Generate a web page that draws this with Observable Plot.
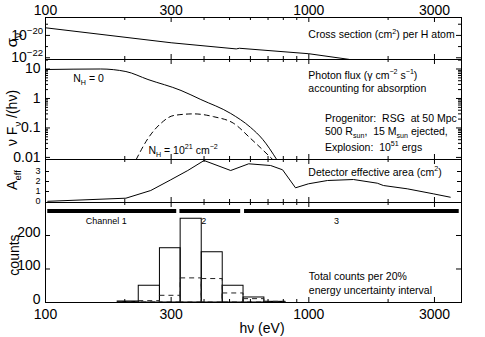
<!DOCTYPE html>
<html><head><meta charset="utf-8">
<script src="https://cdn.jsdelivr.net/npm/d3@7"></script>
<script src="https://cdn.jsdelivr.net/npm/@observablehq/plot@0.6"></script>
<style>
body{margin:0;background:#fff;}
#chart{position:relative;width:485px;height:337px;background:#fff;}
#chart svg{position:absolute;left:0;}
</style></head><body><div id="chart"></div>
<script>
const FONT = '"Liberation Sans", Arial, Helvetica, sans-serif';
const W = 485, ML = 45, MR = 24;

// shared energy axis (eV)
const xDomain = [100, 3800];
const xMajor = [100, 300, 1000, 3000];
const xMinor = [200, 400, 500, 600, 700, 800, 900, 2000];

// panel 1: cross section per H atom (cm^2)
const sigmaE = [100, 300, 530, 545, 1000, 1420];
const sigmaV = [4.8e-20, 2.2e-21, 6.2e-22, 7.1e-22, 2.3e-22, 7.2e-23];
const sigmaDomain = [7.0e-23, 4.0e-19];
const sigmaTicks = [1e-22, 1e-20];
const sigmaTickExp = ["−22", "−20"];
const sigmaMinor = [1e-21, 1e-19];

// panel 2: photon flux
const fluxE0 = [100, 162, 202, 245, 327, 389, 505, 601, 668, 755];
const flux0 = [9.6, 10, 8.2, 4.4, 1.87, 0.92, 0.31, 0.104, 0.041, 0.0085];
const fluxE21 = [221, 245, 274, 307, 366, 436, 519, 601, 729];
const flux21 = [0.0085, 0.044, 0.142, 0.265, 0.30, 0.24, 0.142, 0.044, 0.0085];
const fluxDomain = [0.0085, 21];
const fluxTicks = [0.01, 0.1, 1, 10];
const fluxMinor = [0.02, 0.03, 0.04, 0.05, 0.06, 0.07, 0.08, 0.09, 0.2, 0.3, 0.4, 0.5, 0.6, 0.7, 0.8, 0.9, 2, 3, 4, 5, 6, 7, 8, 9, 20];

// panel 3: detector effective area (cm^2)
const aeffE = [102, 202, 251, 299, 347, 400, 505, 591, 716, 795, 890, 997, 1177, 1477, 1820, 1919, 2364, 2968, 3443];
const aeffV = [0.02, 0.33, 1.1, 2.17, 3.1, 4.1, 3.1, 3.77, 3.6, 3.17, 1.37, 1.77, 2.1, 2.2, 1.83, 1.6, 1.27, 0.77, 0.43];
const aeffDomain = [-0.1, 4.2];
const aeffTicks = [0, 1, 2, 3];

// panel 4: counts per 20% energy bin
const binLo = [188, 226, 272, 326, 392, 471, 565, 678];
const binHi = [226, 272, 326, 392, 471, 565, 678, 815];
const countsTotal = [3, 50, 162, 250, 150, 50, 15, 2];
const countsAbs = [1, 4, 20, 72, 70, 27, 10, 2];
const countDomain = [0, 298.5];
const countTicks = [0, 100, 200];

// detector channels
const channelNames = ["Channel 1", "2", "3"];
const channelLo = [102, 324, 570];
const channelHi = [315, 551, 3725];
const channelLabelE = [170, 399, 1273];
const channelBarCount = 273;
const channelLabelCount = 242;

const fw = W - ML - MR;
const baseStyle = {fontFamily: FONT, fontSize: "14px", overflow: "visible", background: "transparent", color: "black"};

function xTickMarks(fh) {
  return [
    Plot.tickX(xMajor, {x: d => d, insetBottom: fh - 5, stroke: "black"}),
    Plot.tickX(xMajor, {x: d => d, insetTop: fh - 5, stroke: "black"}),
    Plot.tickX(xMinor, {x: d => d, insetBottom: fh - 3, stroke: "black"}),
    Plot.tickX(xMinor, {x: d => d, insetTop: fh - 3, stroke: "black"})
  ];
}
function yTickMarks(vals, len) {
  return [
    Plot.tickY(vals, {y: d => d, insetRight: fw - len, stroke: "black"}),
    Plot.tickY(vals, {y: d => d, insetLeft: fw - len, stroke: "black"})
  ];
}
function xOpts(axis) {
  return axis
    ? {type: "log", domain: xDomain, axis, ticks: xMajor, tickFormat: d => String(d), tickSize: 0, tickPadding: axis === "bottom" ? 7 : 3, label: null}
    : {type: "log", domain: xDomain, axis: null};
}

const chart = document.getElementById("chart");

// ---- panel 1
const fh1 = 42;
const p1 = Plot.plot({
  width: W, height: 17 + fh1, marginLeft: ML, marginRight: MR, marginTop: 17, marginBottom: 0,
  style: baseStyle,
  x: xOpts("top"),
  y: {type: "log", domain: sigmaDomain, axis: null},
  marks: [
    Plot.line(sigmaE.map((e, i) => ({e, v: sigmaV[i]})), {x: "e", y: "v", stroke: "black", strokeWidth: 1, clip: true}),
    ...xTickMarks(fh1),
    ...yTickMarks(sigmaTicks, 5),
    ...yTickMarks(sigmaMinor, 3),
    Plot.frame({stroke: "black"})
  ]
});
p1.style.top = "0px";
chart.appendChild(p1);

// ---- panel 2
const fh2 = 100;
const p2 = Plot.plot({
  width: W, height: fh2, marginLeft: ML, marginRight: MR, marginTop: 0, marginBottom: 0,
  style: baseStyle,
  x: xOpts(null),
  y: {type: "log", domain: fluxDomain, axis: "left", ticks: fluxTicks, tickFormat: d => String(d), tickSize: 0, tickPadding: 5, label: null},
  marks: [
    Plot.line(fluxE0.map((e, i) => ({e, v: flux0[i]})), {x: "e", y: "v", stroke: "black", strokeWidth: 1, clip: true, curve: "monotone-x"}),
    Plot.line(fluxE21.map((e, i) => ({e, v: flux21[i]})), {x: "e", y: "v", stroke: "black", strokeWidth: 1, strokeDasharray: "5,4", clip: true, curve: "monotone-x"}),
    ...xTickMarks(fh2),
    ...yTickMarks(fluxTicks, 5),
    ...yTickMarks(fluxMinor, 3),
    Plot.frame({stroke: "black"})
  ]
});
p2.style.top = "59px";
chart.appendChild(p2);

// ---- panel 3
const fh3 = 43;
const p3 = Plot.plot({
  width: W, height: fh3, marginLeft: ML, marginRight: MR, marginTop: 0, marginBottom: 0,
  style: {...baseStyle, fontSize: "9px"},
  x: xOpts(null),
  y: {domain: aeffDomain, axis: "left", ticks: aeffTicks, tickFormat: d => String(d), tickSize: 0, tickPadding: 5, label: null},
  marks: [
    Plot.line(aeffE.map((e, i) => ({e, v: aeffV[i]})), {x: "e", y: "v", stroke: "black", strokeWidth: 1}),
    ...xTickMarks(fh3),
    ...yTickMarks([1, 2, 3], 4),
    Plot.frame({stroke: "black"})
  ]
});
p3.style.top = "159px";
chart.appendChild(p3);

// ---- panel 4
const fh4 = 100;
const bins = binLo.map((lo, i) => ({lo, hi: binHi[i], total: countsTotal[i], abs: countsAbs[i]}));
const channels = channelNames.map((name, i) => ({name, lo: channelLo[i], hi: channelHi[i], le: channelLabelE[i]}));
const p4 = Plot.plot({
  width: W, height: fh4 + 35, marginLeft: ML, marginRight: MR, marginTop: 0, marginBottom: 35,
  style: baseStyle,
  x: xOpts("bottom"),
  y: {domain: countDomain, axis: null},
  marks: [
    Plot.rectY(bins, {x1: "lo", x2: "hi", y: "total", fill: "none", stroke: "black", strokeWidth: 1}),
    Plot.rectY(bins, {x1: "lo", x2: "hi", y: "abs", fill: "none", stroke: "#222", strokeWidth: 1, strokeDasharray: "5,4"}),
    Plot.ruleY(channels, {x1: "lo", x2: "hi", y: () => channelBarCount, stroke: "black", strokeWidth: 4}),
    Plot.text(channels, {x: "le", y: () => channelLabelCount, text: "name", fontSize: 9, fontFamily: FONT, fill: "black"}),
    Plot.text(["Total counts per 20%", "energy uncertainty interval"], {x: () => 1000, y: (d, i) => [78, 36][i], text: d => d, textAnchor: "start", fontSize: 10.5, fontFamily: FONT, fill: "black"}),
    Plot.text(countTicks, {y: d => d, text: d => String(d), frameAnchor: "left", textAnchor: "end", dx: -5, dy: -3, fontSize: 14, fontFamily: FONT, fill: "black"}),
    ...xTickMarks(fh4),
    ...yTickMarks(countTicks, 5),
    Plot.frame({stroke: "black"})
  ]
});
p4.style.top = "202px";
chart.appendChild(p4);

// ---- rich text helper (sub/superscripts)
function rich(svg, x, y, parts, {size = 10.5, anchor = "start", rotate = 0} = {}) {
  const t = d3.select(svg).append("text")
    .attr("transform", `translate(${x},${y}) rotate(${rotate}) translate(0,${0.35 * size})`)
    .attr("text-anchor", anchor)
    .attr("font-size", size)
    .attr("font-family", FONT)
    .attr("fill", "black")
    .style("white-space", "pre");
  let shift = 0;
  for (const p of parts) {
    const [s, kind] = typeof p === "string" ? [p, null] : p;
    const target = kind === "sup" ? -0.42 * size : kind === "sub" ? 0.3 * size : 0;
    t.append("tspan").attr("dy", target - shift).attr("font-size", kind ? size * 0.68 : size).text(s);
    shift = target;
  }
  return t;
}

const x1s = p1.scale("x"), y1s = p1.scale("y");
sigmaTicks.forEach((v, i) => rich(p1, 43, y1s.apply(v), ["10", [sigmaTickExp[i], "sup"]], {size: 14, anchor: "end"}));
rich(p1, x1s.apply(1000), y1s.apply(1.1e-20), ["Cross section (cm", ["2", "sup"], ") per H atom"]);
rich(p1, 12, 40, ["σ", ["ν", "sub"]], {size: 15, anchor: "middle", rotate: -90});

const x2s = p2.scale("x"), y2s = p2.scale("y");
rich(p2, x2s.apply(1000), y2s.apply(6.0), ["Photon flux (γ cm", ["−2", "sup"], " s", ["−1", "sup"], ")"]);
rich(p2, x2s.apply(1000), y2s.apply(2.2), ["accounting for absorption"]);
rich(p2, x2s.apply(1156), y2s.apply(0.21), ["Progenitor:  RSG  at 50 Mpc"]);
rich(p2, x2s.apply(1156), y2s.apply(0.076), ["500 R", ["sun", "sub"], ",  15 M", ["sun", "sub"], " ejected,"]);
rich(p2, x2s.apply(1156), y2s.apply(0.022), ["Explosion:  10", ["51", "sup"], " ergs"]);
rich(p2, x2s.apply(128), y2s.apply(4.8), ["N", ["H", "sub"], " = 0"]);
rich(p2, x2s.apply(247), y2s.apply(0.0173), ["N", ["H", "sub"], " = 10", ["21", "sup"], " cm", ["−2", "sup"]]);
rich(p2, 12, 59, ["ν F", ["ν", "sub"], " /(hν)"], {size: 14, anchor: "middle", rotate: -90});

const x3s = p3.scale("x"), y3s = p3.scale("y");
rich(p3, x3s.apply(1000), y3s.apply(2.9), ["Detector effective area (cm", ["2", "sup"], ")"]);
rich(p3, 12, 21, ["A", ["eff", "sub"]], {size: 14, anchor: "middle", rotate: -90});

rich(p4, 14, 53, ["counts"], {size: 14, anchor: "middle", rotate: -90});
rich(p4, 262, 126, ["hν (eV)"], {size: 14, anchor: "middle"});
</script></body></html>
